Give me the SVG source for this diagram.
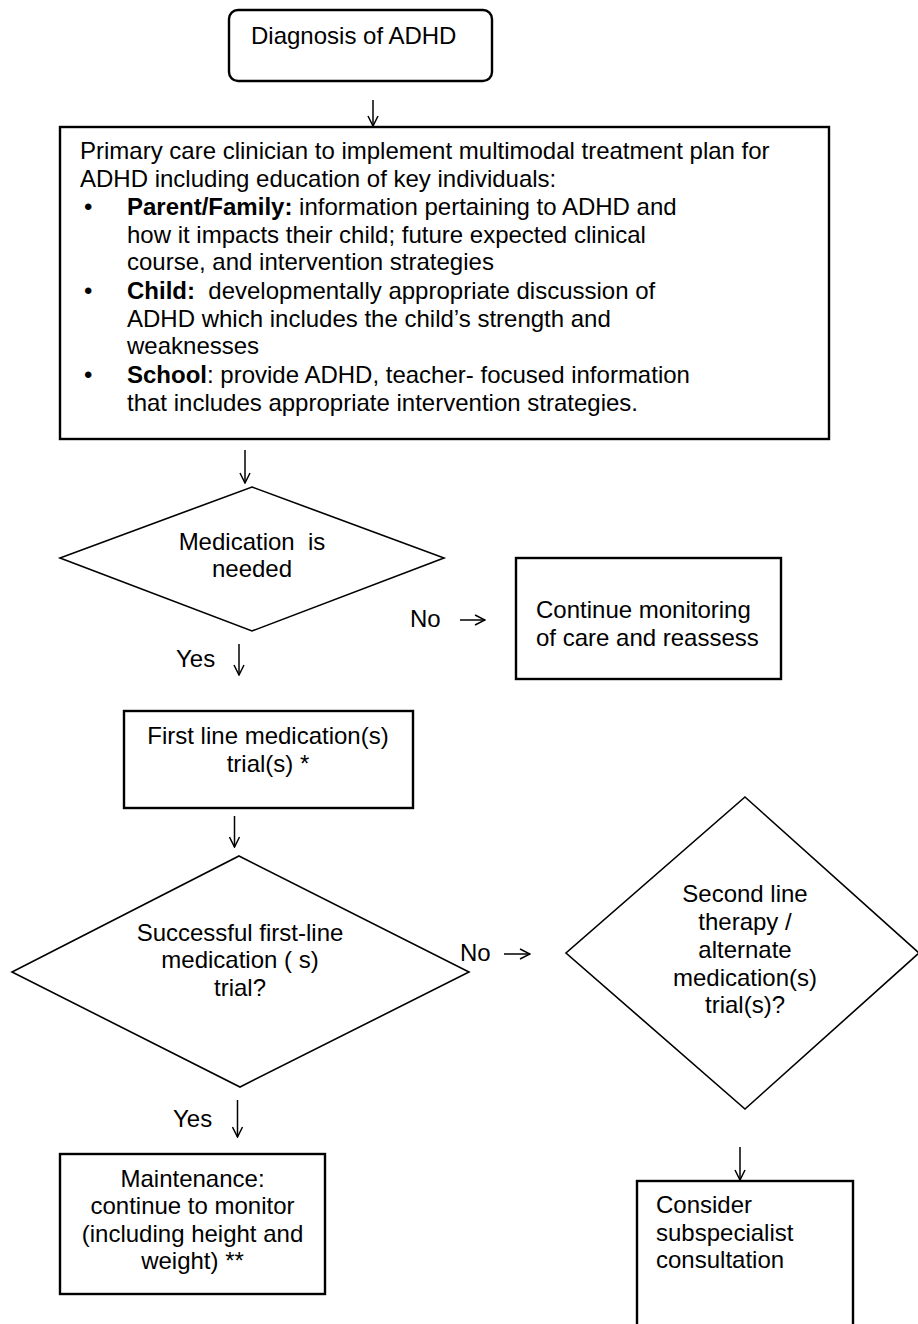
<svg xmlns="http://www.w3.org/2000/svg" width="918" height="1324" viewBox="0 0 918 1324">
<defs>
<style>
text{font-family:"Liberation Sans",Arial,sans-serif;font-size:24px;fill:#000}
.c{text-anchor:middle}
.b{font-weight:bold}
.box{fill:#fff;stroke:#000;stroke-width:2.4}
.dia{fill:#fff;stroke:#000;stroke-width:1.6}
.arr{fill:none;stroke:#000;stroke-width:1.5}
</style>
<marker id="ah" viewBox="0 0 12 12" refX="11" refY="6" markerWidth="12" markerHeight="12" markerUnits="userSpaceOnUse" orient="auto">
<path d="M1,1 L11,6 L1,11" fill="none" stroke="#000" stroke-width="1.5"/>
</marker>
</defs>
<rect width="918" height="1324" fill="#fff"/>

<g id="connectors">
<path class="arr" d="M373,100 V126" marker-end="url(#ah)"/>
<path class="arr" d="M245,450 V483" marker-end="url(#ah)"/>
<path class="arr" d="M239,644 V675" marker-end="url(#ah)"/>
<path class="arr" d="M460,620 H485" marker-end="url(#ah)"/>
<path class="arr" d="M234.5,816 V847" marker-end="url(#ah)"/>
<path class="arr" d="M504,954 H530" marker-end="url(#ah)"/>
<path class="arr" d="M237.5,1100 V1137" marker-end="url(#ah)"/>
<path class="arr" d="M740,1147 V1180" marker-end="url(#ah)"/>
<text x="410" y="627">No</text>
<text x="176" y="667">Yes</text>
<text x="460" y="961">No</text>
<text x="173" y="1127">Yes</text>
</g>

<g id="diagnosis">
<rect class="box" x="229" y="10" width="263" height="71" rx="9"/>
<text x="251" y="44">Diagnosis of ADHD</text>
</g>

<g id="plan">
<rect class="box" x="60" y="127" width="769" height="312"/>
<text x="80" y="159">Primary care clinician to implement multimodal treatment plan for</text>
<text x="80" y="187">ADHD including education of key individuals:</text>
<text x="84" y="215">•</text>
<text x="127" y="215"><tspan class="b">Parent/Family:</tspan> information pertaining to ADHD and</text>
<text x="127" y="243">how it impacts their child; future expected clinical</text>
<text x="127" y="270">course, and intervention strategies</text>
<text x="84" y="299">•</text>
<text x="127" y="299" xml:space="preserve"><tspan class="b">Child:</tspan>  developmentally appropriate discussion of</text>
<text x="127" y="327">ADHD which includes the child’s strength and</text>
<text x="127" y="354">weaknesses</text>
<text x="84" y="383">•</text>
<text x="127" y="383"><tspan class="b">School</tspan>: provide ADHD, teacher- focused information</text>
<text x="127" y="411">that includes appropriate intervention strategies.</text>
</g>

<g id="med-needed">
<polygon class="dia" points="252,487 444,558 252,631 60,558"/>
<text class="c" x="252" y="550" xml:space="preserve">Medication  is</text>
<text class="c" x="252" y="577">needed</text>
</g>

<g id="continue">
<rect class="box" x="516" y="558" width="265" height="121"/>
<text x="536" y="618">Continue monitoring</text>
<text x="536" y="646">of care and reassess</text>
</g>

<g id="first-line">
<rect class="box" x="124" y="711" width="289" height="97"/>
<text class="c" x="268" y="744">First line medication(s)</text>
<text class="c" x="268" y="772">trial(s) *</text>
</g>

<g id="successful">
<polygon class="dia" points="239,856 469,972 240,1087 12,972"/>
<text class="c" x="240" y="941">Successful first-line</text>
<text class="c" x="240" y="968">medication ( s)</text>
<text class="c" x="240" y="996">trial?</text>
</g>

<g id="second-line">
<polygon class="dia" points="745,797 919,953 745,1109 566,953"/>
<text class="c" x="745" y="902">Second line</text>
<text class="c" x="745" y="930">therapy /</text>
<text class="c" x="745" y="958">alternate</text>
<text class="c" x="745" y="986">medication(s)</text>
<text class="c" x="745" y="1013">trial(s)?</text>
</g>

<g id="maintenance">
<rect class="box" x="60" y="1154" width="265" height="140"/>
<text class="c" x="192.5" y="1187">Maintenance:</text>
<text class="c" x="192.5" y="1214">continue to monitor</text>
<text class="c" x="192.5" y="1242">(including height and</text>
<text class="c" x="192.5" y="1269">weight) **</text>
</g>

<g id="subspecialist">
<rect class="box" x="637" y="1181" width="216" height="160"/>
<text x="656" y="1213">Consider</text>
<text x="656" y="1241">subspecialist</text>
<text x="656" y="1268">consultation</text>
</g>
</svg>
